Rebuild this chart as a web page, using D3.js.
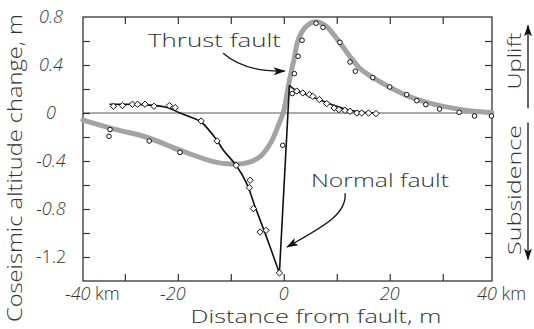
<!DOCTYPE html>
<html>
<head>
<meta charset="utf-8">
<script src="https://cdn.jsdelivr.net/npm/d3@7"></script>
<style>
  body { margin: 0; background: #fff; }
  svg { display: block; }
  text { font-family: "Open Sans", "Lato", sans-serif; font-weight: 300; fill: #333; }
  .tick line { stroke: #333; stroke-width: 1.2; }
</style>
</head>
<body>
<svg id="chart" width="534" height="329"></svg>
<script>
// ── Data (distance from fault in km, altitude change in m) ──

// thrust fault: observed points (circles)
const thrustObsKm = [-33, -32.8, -25.4, -19.6, -0.2, 1.6, 2.0, 2.7, 3.45, 6.1, 7.4, 10.6, 12.5, 13.5, 16.8, 20.0, 23.2, 25.1, 26.8, 29.4, 33.1, 36.0, 39.2];
const thrustObsM  = [-0.194, -0.138, -0.233, -0.328, -0.269, 0.162, 0.328, 0.473, 0.606, 0.748, 0.714, 0.589, 0.425, 0.348, 0.295, 0.217, 0.153, 0.103, 0.07, 0.033, 0.006, -0.025, -0.025];

// thrust fault: model curve (thick grey)
const thrustModelKm = [-37.9, -32, -26, -19.6, -13.3, -10, -7, -4.5, -2.5, -1, 0, 0.6, 1.2, 1.9, 2.8, 4.2, 5.9, 7.8, 10, 12.5, 14.4, 16.3, 17.6, 20.6, 23.8, 27, 30.1, 33.3, 36.5, 39.3];
const thrustModelM  = [-0.06, -0.135, -0.2, -0.31, -0.405, -0.425, -0.415, -0.365, -0.25, -0.1, 0.02, 0.16, 0.3, 0.44, 0.62, 0.72, 0.76, 0.73, 0.62, 0.47, 0.37, 0.31, 0.275, 0.2, 0.135, 0.088, 0.055, 0.03, 0.013, 0.005];

// normal fault: observed points (diamonds)
const normalObsKm = [-32.15, -30.45, -28.57, -27.6, -26.2, -24.5, -21.6, -20.5, -15.6, -12.6, -9.0, -6.36, -6.5, -5.74, -4.47, -3.34, -0.83,
                     2.45, 3.58, 4.83, 5.47, 6.72, 8.11, 9.5, 10.4, 11.55, 12.5, 13.8, 14.7, 16.0, 17.4];
const normalObsM  = [0.056, 0.062, 0.073, 0.073, 0.073, 0.056, 0.062, 0.045, -0.067, -0.233, -0.436, -0.561, -0.622, -0.797, -0.992, -0.978, -1.333,
                     0.183, 0.167, 0.153, 0.139, 0.112, 0.078, 0.042, 0.028, 0.022, 0.014, 0, 0, 0, -0.005];

// normal fault: model curve, footwall side and hanging-wall side
const normalLeftKm  = [-32.9, -28, -24.6, -22, -19.6, -17.5, -15.6, -12.6, -11.4, -9.0, -7.0, -5.4, -3.5, -0.83];
const normalLeftM   = [0.073, 0.072, 0.064, 0.045, 0.0, -0.035, -0.075, -0.228, -0.311, -0.436, -0.589, -0.783, -1.005, -1.333];
const normalRightKm = [1.06, 1.8, 3.7, 6.2, 9.4, 12.5, 15, 17.5];
const normalRightM  = [0.231, 0.203, 0.162, 0.12, 0.064, 0.023, 0.006, 0.0];

// axes
const xTicks = [-30, -20, -10, 0, 10, 20, 30];
const xLabels = [-20, 0, 20];
const yTicks = [-1.2, -1.0, -0.8, -0.6, -0.4, -0.2, 0, 0.2, 0.4, 0.6];
const yLabels = [0.8, 0.4, 0, -0.4, -0.8, -1.2];

// ── Setup ──
const svg = d3.select('#chart');
const x = d3.scaleLinear().domain([-37.9, 39.3]).range([83, 492]);
const y = d3.scaleLinear().domain([-1.4, 0.8]).range([281, 17]);
const [x0, x1] = x.range();
const [yb, yt] = y.range();

const defs = svg.append('defs');
defs.append('marker').attr('id', 'head')
    .attr('viewBox', '0 0 12 8').attr('refX', 11).attr('refY', 4)
    .attr('markerWidth', 12).attr('markerHeight', 8)
    .attr('markerUnits', 'userSpaceOnUse').attr('orient', 'auto')
  .append('path').attr('d', 'M0,0 L12,4 L0,8 L3,4 Z').attr('fill', '#111');

// zero line
svg.append('line')
    .attr('x1', x0).attr('x2', x1).attr('y1', y(0)).attr('y2', y(0))
    .attr('stroke', '#444').attr('stroke-width', 0.9);

// ticks (inward on all four sides)
svg.append('g').attr('transform', `translate(0,${yb})`)
    .call(d3.axisBottom(x).tickValues(xTicks).tickSize(-7).tickFormat(''));
svg.append('g').attr('transform', `translate(0,${yt})`)
    .call(d3.axisTop(x).tickValues(xTicks).tickSize(-7).tickFormat(''));
svg.append('g').attr('transform', `translate(${x0},0)`)
    .call(d3.axisLeft(y).tickValues(yTicks).tickSize(-7).tickFormat(''));
svg.append('g').attr('transform', `translate(${x1},0)`)
    .call(d3.axisRight(y).tickValues(yTicks).tickSize(-7).tickFormat(''));
svg.selectAll('.domain').remove();

// frame
svg.append('rect')
    .attr('x', x0).attr('y', yt).attr('width', x1 - x0).attr('height', yb - yt)
    .attr('fill', 'none').attr('stroke', '#333').attr('stroke-width', 1.3);

// ── Thrust model curve ──
const line = d3.line().x(d => x(d[0])).y(d => y(d[1]));
svg.append('path')
    .datum(d3.zip(thrustModelKm, thrustModelM))
    .attr('d', line.curve(d3.curveCatmullRom.alpha(0.5)))
    .attr('fill', 'none').attr('stroke', '#a3a3a3').attr('stroke-width', 5)
    .attr('stroke-linecap', 'round');

// ── Normal model curve ──
const nLeft = d3.zip(normalLeftKm, normalLeftM);
const nRight = d3.zip(normalRightKm, normalRightM);
const blk = g => g.attr('fill', 'none').attr('stroke', '#111').attr('stroke-width', 1.6);
svg.append('path').datum(nLeft).attr('d', line.curve(d3.curveCatmullRom.alpha(0.5))).call(blk);
svg.append('path').datum([nLeft[nLeft.length - 1], nRight[0]]).attr('d', line.curve(d3.curveLinear)).call(blk);
svg.append('path').datum(nRight).attr('d', line.curve(d3.curveCatmullRom.alpha(0.5))).call(blk);

// observed points
svg.append('g').selectAll('circle')
    .data(d3.zip(thrustObsKm, thrustObsM)).join('circle')
    .attr('cx', d => x(d[0])).attr('cy', d => y(d[1])).attr('r', 2.3)
    .attr('fill', '#fff').attr('stroke', '#111').attr('stroke-width', 1);

svg.append('g').selectAll('path')
    .data(d3.zip(normalObsKm, normalObsM)).join('path')
    .attr('d', d3.symbol(d3.symbolDiamond2, 26))
    .attr('transform', d => `translate(${x(d[0])},${y(d[1])})`)
    .attr('fill', '#fff').attr('stroke', '#111').attr('stroke-width', 1);

// ── Annotations ──
svg.append('text').attr('x', 148).attr('y', 47)
    .attr('font-size', 19).attr('textLength', 133).attr('lengthAdjust', 'spacingAndGlyphs')
    .text('Thrust fault');
const pThrust = d3.path();
pThrust.moveTo(x(-11.45), y(0.4975));
pThrust.quadraticCurveTo(x(-7.3), y(0.339), x(0.15), y(0.35));
svg.append('path').attr('d', pThrust.toString())
    .attr('fill', 'none').attr('stroke', '#111').attr('stroke-width', 1.3)
    .attr('marker-end', 'url(#head)');

svg.append('text').attr('x', 311).attr('y', 187)
    .attr('font-size', 19).attr('textLength', 138).attr('lengthAdjust', 'spacingAndGlyphs')
    .text('Normal fault');
const pNormal = d3.path();
pNormal.moveTo(x(11.57), y(-0.669));
pNormal.bezierCurveTo(x(11.94), y(-0.8525), x(6.85), y(-0.96), x(0.62), y(-1.117));
svg.append('path').attr('d', pNormal.toString())
    .attr('fill', 'none').attr('stroke', '#111').attr('stroke-width', 1.3)
    .attr('marker-end', 'url(#head)');

// ── Tick labels ──
svg.append('g').selectAll('text')
    .data(yLabels).join('text')
    .attr('x', 51).attr('y', d => y(d) + 6)
    .attr('text-anchor', 'middle').attr('font-size', 18)
    .attr('font-style', d => d === -1.2 ? 'normal' : 'italic')
    .text(d => d === 0 ? '0' : d.toFixed(1));

svg.append('g').selectAll('text')
    .data(xLabels).join('text')
    .attr('x', d => x(d) + (d < 0 ? -5 : 0)).attr('y', 300)
    .attr('text-anchor', 'middle').attr('font-size', 18).attr('font-style', 'italic')
    .text(d => String(d));
svg.append('text').attr('x', x0 - 18).attr('y', 300).attr('font-size', 18)
    .call(t => { t.append('tspan').attr('font-style', 'italic').text('-40'); t.append('tspan').text(' km'); });
svg.append('text').attr('x', x1 - 15).attr('y', 300).attr('font-size', 18)
    .call(t => { t.append('tspan').attr('font-style', 'italic').text('40'); t.append('tspan').text(' km'); });

// ── Axis titles ──
svg.append('text').attr('x', 316).attr('y', 323)
    .attr('text-anchor', 'middle').attr('font-size', 19)
    .attr('textLength', 251).attr('lengthAdjust', 'spacingAndGlyphs')
    .text('Distance from fault, m');
svg.append('text').attr('transform', 'translate(22,168) rotate(-90)')
    .attr('text-anchor', 'middle').attr('font-size', 20)
    .attr('textLength', 308).attr('lengthAdjust', 'spacingAndGlyphs')
    .text('Coseismic altitude change, m');

// ── Uplift / Subsidence side labels ──
svg.append('text').attr('transform', 'translate(521,61) rotate(-90)')
    .attr('text-anchor', 'middle').attr('font-size', 19)
    .attr('textLength', 57).attr('lengthAdjust', 'spacingAndGlyphs')
    .text('Uplift');
svg.append('text').attr('transform', 'translate(521,190) rotate(-90)')
    .attr('text-anchor', 'middle').attr('font-size', 19)
    .attr('textLength', 130).attr('lengthAdjust', 'spacingAndGlyphs')
    .text('Subsidence');
svg.append('line').attr('x1', 528).attr('x2', 528).attr('y1', y(0.04)).attr('y2', y(0.73))
    .attr('stroke', '#111').attr('stroke-width', 1.3).attr('marker-end', 'url(#head)');
svg.append('line').attr('x1', 528).attr('x2', 528).attr('y1', y(-0.08)).attr('y2', y(-1.22))
    .attr('stroke', '#111').attr('stroke-width', 1.3).attr('marker-end', 'url(#head)');
</script>
</body>
</html>
